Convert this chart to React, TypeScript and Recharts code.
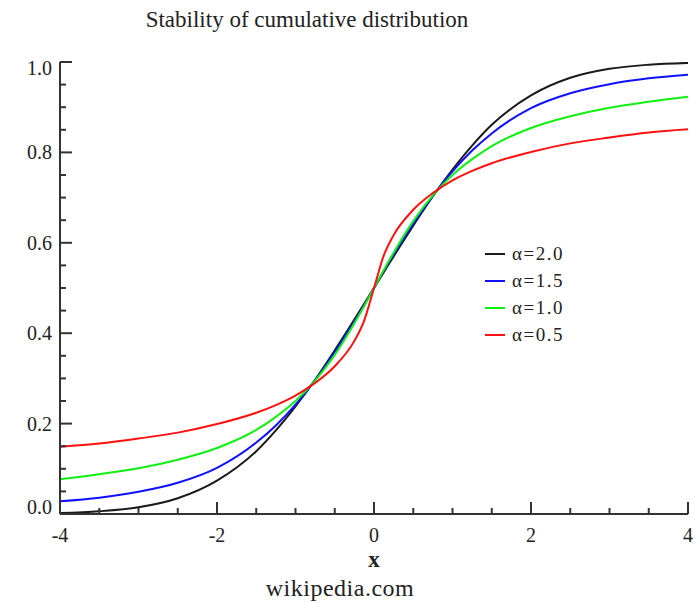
import React from "react";
import { LineChart, Line, XAxis, YAxis, Legend } from "recharts";

const xValues = [-4, -3.5, -3, -2.5, -2, -1.5, -1.25, -1, -0.75, -0.5, -0.25, -0.125, 0, 0.125, 0.25, 0.5, 0.75, 1, 1.25, 1.5, 2, 2.5, 3, 3.5, 4];
const alpha20 = [0.002, 0.006, 0.015, 0.035, 0.074, 0.139, 0.185, 0.238, 0.297, 0.362, 0.430, 0.465, 0.5, 0.535, 0.570, 0.638, 0.703, 0.762, 0.815, 0.861, 0.926, 0.965, 0.985, 0.994, 0.998];
const alpha15 = [0.028, 0.036, 0.049, 0.069, 0.102, 0.158, 0.196, 0.242, 0.296, 0.358, 0.426, 0.462, 0.5, 0.538, 0.574, 0.642, 0.704, 0.758, 0.804, 0.842, 0.898, 0.931, 0.951, 0.964, 0.972];
const alpha10 = [0.077, 0.088, 0.101, 0.120, 0.146, 0.186, 0.215, 0.250, 0.295, 0.352, 0.422, 0.460, 0.5, 0.540, 0.578, 0.648, 0.705, 0.750, 0.785, 0.814, 0.854, 0.880, 0.899, 0.912, 0.923];
const alpha05 = [0.149, 0.156, 0.167, 0.180, 0.199, 0.224, 0.241, 0.262, 0.290, 0.327, 0.383, 0.428, 0.5, 0.572, 0.617, 0.673, 0.710, 0.738, 0.759, 0.776, 0.801, 0.820, 0.833, 0.844, 0.851];

const xTicks = [-4, -3.5, -3, -2.5, -2, -1.5, -1, -0.5, 0, 0.5, 1, 1.5, 2, 2.5, 3, 3.5, 4];
const yTicks = [0, 0.05, 0.1, 0.15, 0.2, 0.25, 0.3, 0.35, 0.4, 0.45, 0.5, 0.55, 0.6, 0.65, 0.7, 0.75, 0.8, 0.85, 0.9, 0.95, 1];

const series = [
  { key: "a20", label: "α=2.0", color: "#1a1a1a", values: alpha20 },
  { key: "a15", label: "α=1.5", color: "#1010ff", values: alpha15 },
  { key: "a10", label: "α=1.0", color: "#10f010", values: alpha10 },
  { key: "a05", label: "α=0.5", color: "#ff1010", values: alpha05 },
];

const data = xValues.map((x, i) => {
  const row: Record<string, number> = { x };
  series.forEach((s) => {
    row[s.key] = s.values[i];
  });
  return row;
});

const FONT = '"Liberation Serif", "Times New Roman", serif';
const AXIS = "#333";

const isMajorX = (v: number) => Math.abs(v / 2 - Math.round(v / 2)) < 1e-6;
const isMajorY = (v: number) => Math.abs(v * 5 - Math.round(v * 5)) < 1e-6;

function BottomTick(props: any) {
  const { x, y, payload } = props;
  const v = payload.value;
  const major = isMajorX(v);
  return (
    <g>
      <line x1={x} x2={x} y1={y} y2={y - (major ? 12 : 6)} stroke={AXIS} strokeWidth={2} />
      {major && (
        <text x={x} y={y + 28} textAnchor="middle" fontSize={20} fontFamily={FONT} fill="#222">
          {String(v)}
        </text>
      )}
    </g>
  );
}

function TopTick(props: any) {
  const { x, y, payload } = props;
  const major = isMajorX(payload.value);
  return <line x1={x} x2={x} y1={y} y2={y + (major ? 12 : 6)} stroke={AXIS} strokeWidth={2} />;
}

function LeftTick(props: any) {
  const { x, y, payload } = props;
  const v = payload.value;
  const major = isMajorY(v);
  let shift = 0;
  if (v === 1) shift = 6;
  if (v === 0) shift = -7;
  return (
    <g>
      <line x1={x} x2={x + (major ? 12 : 6)} y1={y} y2={y} stroke={AXIS} strokeWidth={2} />
      {major && (
        <text x={x - 8} y={y + shift + 7} textAnchor="end" fontSize={20} fontFamily={FONT} fill="#222">
          {v.toFixed(1)}
        </text>
      )}
    </g>
  );
}

function RightTick(props: any) {
  const { x, y, payload } = props;
  const major = isMajorY(payload.value);
  return <line x1={x} x2={x - (major ? 12 : 6)} y1={y} y2={y} stroke={AXIS} strokeWidth={2} />;
}

function LegendBox() {
  return (
    <div style={{ fontFamily: FONT, fontSize: 19, color: "#222" }}>
      {series.map((s) => (
        <div key={s.key} style={{ display: "flex", alignItems: "center", height: 27 }}>
          <svg width={27} height={4} style={{ display: "block" }}>
            <line x1={0} x2={20} y1={2} y2={2} stroke={s.color} strokeWidth={2} />
          </svg>
          <span style={{ letterSpacing: 1.5 }}>{s.label}</span>
        </div>
      ))}
    </div>
  );
}

export default function App() {
  return (
    <div style={{ position: "absolute", left: 0, top: 0, width: 700, height: 603, background: "#fff" }}>
      <svg width={700} height={603} style={{ position: "absolute", left: 0, top: 0 }}>
        <text x={307} y={27} textAnchor="middle" fontSize={23} fontFamily={FONT} fill="#222">
          Stability of cumulative distribution
        </text>
        <text x={374} y={567} textAnchor="middle" fontSize={23} fontWeight="bold" fontFamily={FONT} fill="#222">
          x
        </text>
        <text x={340} y={596} textAnchor="middle" fontSize={24} fontFamily={FONT} fill="#222" letterSpacing={0.5}>
          wikipedia.com
        </text>
      </svg>
      <div style={{ position: "absolute", left: 0, top: 0 }}>
        <LineChart width={700} height={603} data={data} margin={{ top: 62, right: 12, bottom: 59, left: 0 }}>
          <XAxis
            dataKey="x"
            type="number"
            domain={[-4, 4]}
            ticks={xTicks}
            interval={0}
            tick={(p: any) => <BottomTick {...p} />}
            tickLine={false}
            tickSize={0}
            tickMargin={0}
            height={30}
            axisLine={{ stroke: AXIS, strokeWidth: 2 }}
            allowDataOverflow
          />
          <XAxis
            xAxisId="top"
            orientation="top"
            dataKey="x"
            type="number"
            domain={[-4, 4]}
            ticks={xTicks}
            interval={0}
            tick={(p: any) => <TopTick {...p} />}
            tickLine={false}
            tickSize={0}
            tickMargin={0}
            height={0}
            axisLine={{ stroke: AXIS, strokeWidth: 2 }}
            allowDataOverflow
          />
          <YAxis
            type="number"
            domain={[0, 1]}
            ticks={yTicks}
            interval={0}
            tick={(p: any) => <LeftTick {...p} />}
            tickLine={false}
            tickSize={0}
            tickMargin={0}
            width={60}
            axisLine={{ stroke: AXIS, strokeWidth: 2 }}
            allowDataOverflow
          />
          <YAxis
            yAxisId="right"
            orientation="right"
            type="number"
            domain={[0, 1]}
            ticks={yTicks}
            interval={0}
            tick={(p: any) => <RightTick {...p} />}
            tickLine={false}
            tickSize={0}
            tickMargin={0}
            width={0}
            axisLine={{ stroke: AXIS, strokeWidth: 2 }}
            allowDataOverflow
          />
          <Legend
            layout="vertical"
            align="center"
            verticalAlign="middle"
            content={() => <LegendBox />}
            wrapperStyle={{ position: "absolute", left: 485, top: 240, width: 120 }}
          />
          {series.map((s) => (
            <Line
              key={s.key}
              type="monotone"
              dataKey={s.key}
              stroke={s.color}
              strokeWidth={2}
              dot={false}
              activeDot={false}
              isAnimationActive={false}
            />
          ))}
        </LineChart>
      </div>
    </div>
  );
}
